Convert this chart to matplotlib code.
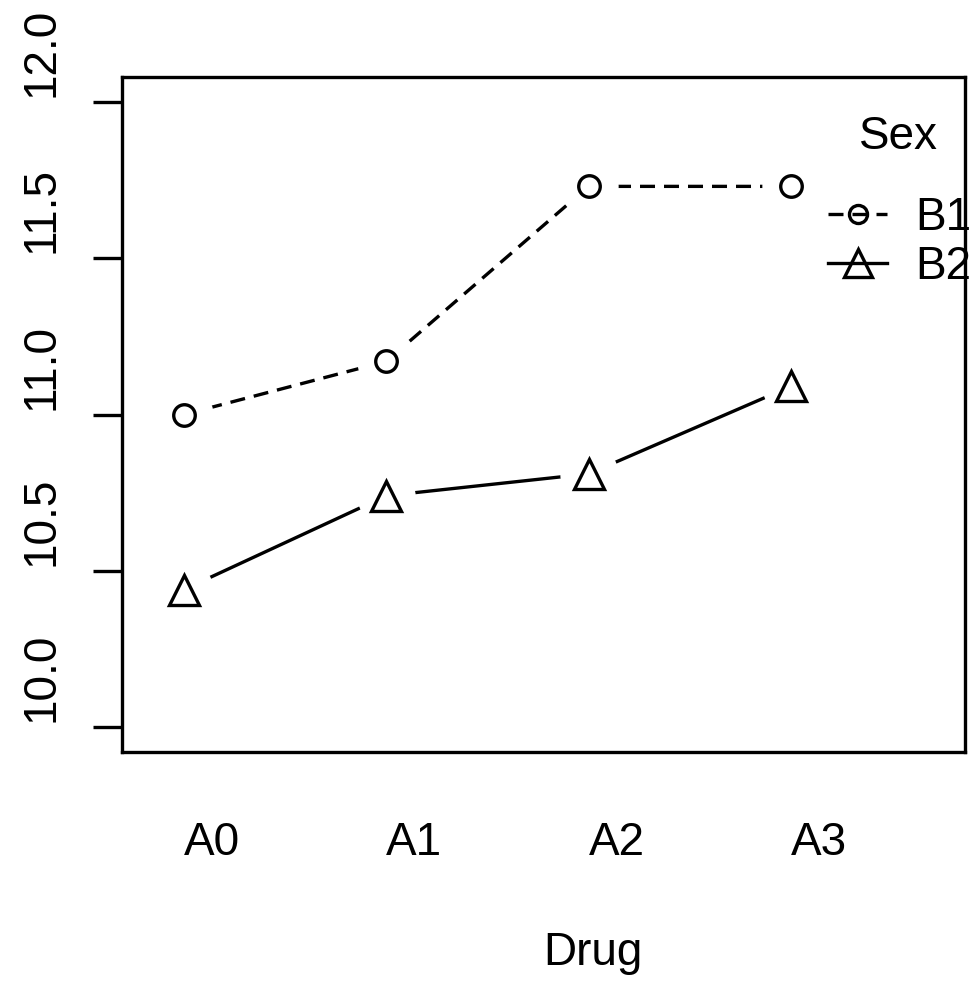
import numpy as np
import matplotlib
matplotlib.use("Agg")
import matplotlib.pyplot as plt
import matplotlib.transforms as mtransforms
from matplotlib.lines import Line2D

plt.rcParams['font.family'] = ['Liberation Sans', 'DejaVu Sans']

# cell means
drug = ["A0", "A1", "A2", "A3"]
sex = ["B1", "B2"]
b1_means = [11.00, 11.17, 11.73, 11.73]
b2_means = [10.44, 10.74, 10.81, 11.09]
yticks = [10.0, 10.5, 11.0, 11.5, 12.0]

fs = 33
lw = 2.4

fig = plt.figure(figsize=(9.74, 9.81), dpi=100)
ax = fig.add_axes([122/974, 1-752/981, (965-122)/974, (752-77)/981])

x = np.arange(1, len(drug) + 1)

# lines first, then white blobs to get R's type="b" gaps, then the symbols
ax.plot(x, b1_means, color='black', lw=lw, dashes=(4.5, 2.7), zorder=2)
ax.plot(x, b2_means, color='black', lw=lw, zorder=2)
for ys in (b1_means, b2_means):
    ax.plot(x, ys, ls='none', marker='o', ms=42, mfc='white', mec='none', zorder=3)
ax.plot(x, b1_means, ls='none', marker='o', ms=15.5, mfc='none', mec='black',
        mew=lw, zorder=4)
ax.plot(x, b2_means, ls='none', marker='^', ms=21, mfc='none', mec='black',
        mew=lw, zorder=4)

ax.set_xlim(1 - 62/202, 4 + 174/202)
ax.set_ylim(9.92, 12.08)

ax.set_yticks(yticks)
ax.set_yticklabels([f"{v:.1f}" for v in yticks], rotation=90, va='bottom',
                   fontsize=fs)
ax.tick_params(axis='y', length=29 * 0.72, width=lw, pad=21)
shift_up = mtransforms.ScaledTranslation(0, 5/100, fig.dpi_scale_trans)
for lab in ax.get_yticklabels():
    lab.set_transform(lab.get_transform() + shift_up)

ax.set_xticks(x)
ax.set_xticklabels(drug, ha='left', fontsize=fs)
ax.tick_params(axis='x', length=0, pad=50)

ax.set_xlabel("Drug", fontsize=fs, labelpad=47)
ax.xaxis.label.set_horizontalalignment('left')

for s in ax.spines.values():
    s.set_linewidth(lw)

handles = [
    Line2D([], [], color='black', lw=lw, dashes=(4.5, 2.7), marker='o', ms=13,
           mfc='none', mec='black', mew=lw),
    Line2D([], [], color='black', lw=lw, marker='^', ms=20, mfc='none',
           mec='black', mew=lw),
]
ax.legend(handles, sex, loc='upper left', bbox_to_anchor=(828/974, 1-196/981),
          bbox_transform=fig.transFigure, frameon=False, fontsize=fs,
          borderpad=0, borderaxespad=0, handlelength=1.29, handletextpad=0.61,
          labelspacing=0.1)
fig.text(898/974, 1-137/981, "Sex", ha='center', va='center', fontsize=fs)

fig.savefig("out.png", dpi=100)
